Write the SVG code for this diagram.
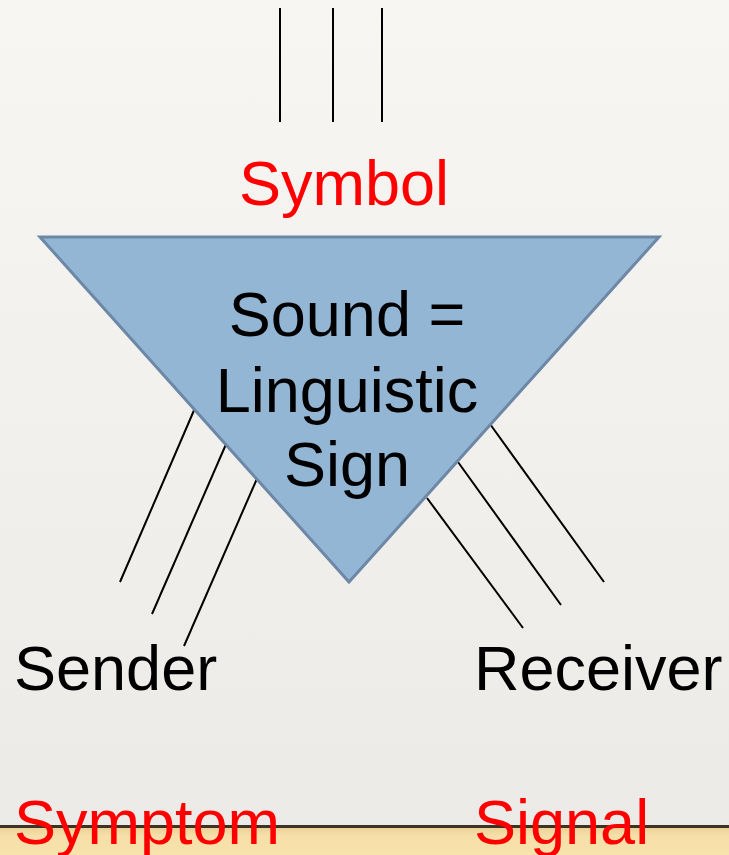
<svg xmlns="http://www.w3.org/2000/svg" width="729" height="855" viewBox="0 0 729 855">
<defs>
<linearGradient id="bg" x1="0" y1="0" x2="0" y2="1">
<stop offset="0" stop-color="#f7f6f3"/>
<stop offset="1" stop-color="#ebeae6"/>
</linearGradient>
<linearGradient id="wood" x1="0" y1="0" x2="0" y2="1">
<stop offset="0" stop-color="#e9cf95"/>
<stop offset="0.3" stop-color="#f6dfa8"/>
<stop offset="1" stop-color="#f8e2ad"/>
</linearGradient>
<style>
.t{font-family:"Liberation Sans",Arial,sans-serif;font-size:63px;}
.red{fill:#ff0000;}
.blk{fill:#000000;}
.ln{stroke:#000000;stroke-width:2;fill:none;}
</style>
</defs>
<rect x="0" y="0" width="729" height="855" fill="url(#bg)"/>
<rect x="0" y="827" width="729" height="28" fill="url(#wood)"/>
<rect x="0" y="825" width="729" height="3" fill="#3d3325"/>
<g id="connectors">
<line class="ln" x1="280" y1="8" x2="280" y2="122"/>
<line class="ln" x1="333" y1="8" x2="333" y2="122"/>
<line class="ln" x1="382" y1="8" x2="382" y2="122"/>
<line class="ln" x1="195" y1="408" x2="120" y2="582"/>
<line class="ln" x1="227" y1="442" x2="152" y2="614"/>
<line class="ln" x1="259" y1="474" x2="184" y2="646"/>
<line class="ln" x1="490" y1="424" x2="604" y2="582"/>
<line class="ln" x1="458" y1="462" x2="561" y2="605"/>
<line class="ln" x1="427" y1="498" x2="523" y2="628"/>
</g>
<g id="sign">
<polygon points="40,237 659,237 349,582" fill="#93b6d4" stroke="#6c88a6" stroke-width="3" stroke-linejoin="miter"/>
<text class="t blk" x="347" y="336" text-anchor="middle">Sound =</text>
<text class="t blk" x="347" y="412" text-anchor="middle">Linguistic</text>
<text class="t blk" x="347" y="486" text-anchor="middle">Sign</text>
</g>
<g id="symbol"><text class="t red" x="344" y="205" text-anchor="middle">Symbol</text></g>
<g id="sender"><text class="t blk" x="14" y="690">Sender</text></g>
<g id="receiver"><text class="t blk" x="474" y="690">Receiver</text></g>
<g id="symptom"><text class="t red" x="14" y="844">Symptom</text></g>
<g id="signal"><text class="t red" x="474" y="844">Signal</text></g>
</svg>
